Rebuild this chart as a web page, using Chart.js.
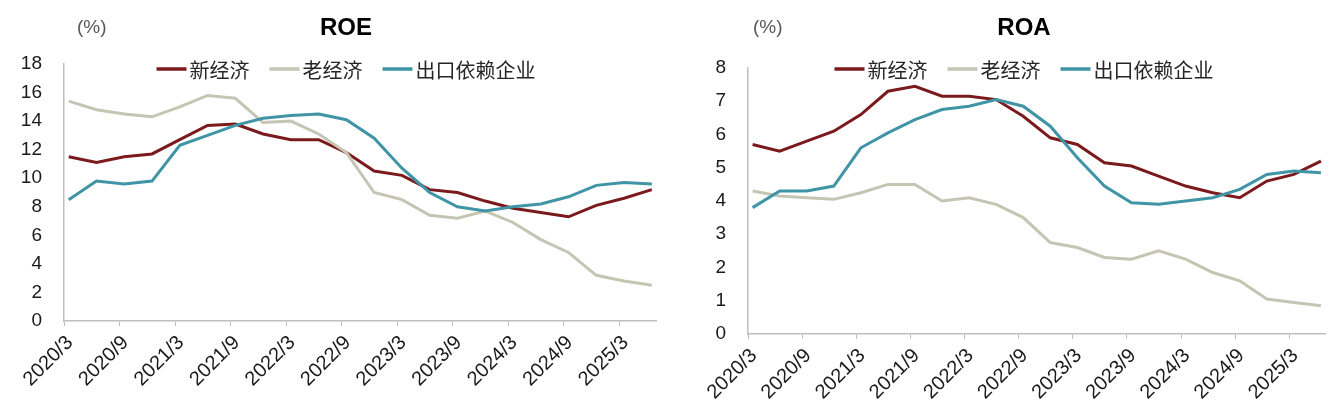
<!DOCTYPE html>
<html>
<head>
<meta charset="utf-8">
<script src="https://cdn.jsdelivr.net/npm/chart.js@4.4.1/dist/chart.umd.min.js"></script>
<style>
  html, body { margin: 0; padding: 0; background: #fff; }
  #wrap { display: flex; width: 1332px; height: 411px; }
  .box { width: 666px; height: 411px; }
</style>
</head>
<body>
<div id="wrap">
  <div class="box"><canvas id="roe" width="666" height="411"></canvas></div>
  <div class="box"><canvas id="roa" width="666" height="411"></canvas></div>
</div>
<script>
const quarters = [
  '2020/3', '2020/6', '2020/9', '2020/12',
  '2021/3', '2021/6', '2021/9', '2021/12',
  '2022/3', '2022/6', '2022/9', '2022/12',
  '2023/3', '2023/6', '2023/9', '2023/12',
  '2024/3', '2024/6', '2024/9', '2024/12',
  '2025/3', '2025/6'
];
const tickLabels = ['2020/3', '2020/9', '2021/3', '2021/9', '2022/3', '2022/9',
  '2023/3', '2023/9', '2024/3', '2024/9', '2025/3'];
const seriesNames = ['新经济', '老经济', '出口依赖企业'];

// ROE (%)
const roeNew = [11.5, 11.1, 11.5, 11.7, 12.7, 13.7, 13.8, 13.1, 12.7, 12.7, 11.8, 10.5,
  10.2, 9.2, 9.0, 8.4, 7.9, 7.6, 7.3, 8.1, 8.6, 9.2];
const roeOld = [15.4, 14.8, 14.5, 14.3, 15.0, 15.8, 15.6, 13.9, 14.0, 13.1, 11.8, 9.0,
  8.5, 7.4, 7.2, 7.7, 6.9, 5.7, 4.8, 3.2, 2.8, 2.5];
const roeExport = [8.5, 9.8, 9.6, 9.8, 12.3, 13.0, 13.7, 14.2, 14.4, 14.5, 14.1, 12.8,
  10.7, 9.0, 8.0, 7.7, 8.0, 8.2, 8.7, 9.5, 9.7, 9.6];

// ROA (%)
const roaNew = [5.7, 5.5, 5.8, 6.1, 6.6, 7.3, 7.45, 7.15, 7.15, 7.05, 6.55, 5.9,
  5.7, 5.15, 5.05, 4.75, 4.45, 4.25, 4.1, 4.6, 4.8, 5.2];
const roaOld = [4.3, 4.15, 4.1, 4.05, 4.25, 4.5, 4.5, 4.0, 4.1, 3.9, 3.5, 2.75,
  2.6, 2.3, 2.25, 2.5, 2.25, 1.85, 1.6, 1.05, 0.95, 0.85];
const roaExport = [3.8, 4.3, 4.3, 4.45, 5.6, 6.05, 6.45, 6.75, 6.85, 7.05, 6.85, 6.25,
  5.3, 4.45, 3.95, 3.9, 4.0, 4.1, 4.35, 4.8, 4.9, 4.85];

const colors = ['#7b1a1c', '#c5c5b4', '#3f95a5'];

// unit label, title and an in-plot legend (the legend overlaps the plot in the source)
const decor = {
  id: 'decor',
  afterDraw(chart, args, opts) {
    const ctx = chart.ctx;
    ctx.save();
    ctx.textBaseline = 'middle';
    ctx.textAlign = 'left';
    ctx.fillStyle = '#595959';
    ctx.font = '19px "Liberation Sans", Arial, sans-serif';
    ctx.fillText('(%)', opts.unitX, 28);

    ctx.fillStyle = '#000';
    ctx.font = 'bold 24px "Liberation Sans", Arial, sans-serif';
    ctx.textAlign = 'center';
    ctx.fillText(opts.title, opts.centerX, 28);

    ctx.font = '20px "Noto Sans CJK SC", sans-serif';
    ctx.textAlign = 'left';
    const items = opts.order.map(ds => ({
      label: ds.label,
      color: ds.borderColor,
      w: 33 + ctx.measureText(ds.label).width
    }));
    const gap = 20;
    const total = items.reduce((s, it) => s + it.w, 0) + gap * (items.length - 1);
    let x = opts.centerX - total / 2;
    items.forEach(it => {
      ctx.strokeStyle = it.color;
      ctx.lineWidth = 3.5;
      ctx.beginPath();
      ctx.moveTo(x, opts.legendY);
      ctx.lineTo(x + 30, opts.legendY);
      ctx.stroke();
      ctx.fillStyle = '#262626';
      ctx.fillText(it.label, x + 33, opts.legendY + 1);
      x += it.w + gap;
    });
    ctx.restore();
  }
};

function makeChart(canvasId, values, cfg) {
  const ctx = document.getElementById(canvasId).getContext('2d');
  const datasets = values.map((vals, i) => ({
    label: seriesNames[i],
    data: vals.map((v, j) => ({ x: j, y: v })),
    borderColor: colors[i],
    backgroundColor: colors[i],
    borderWidth: 3,
    pointRadius: 0,
    tension: 0
  }));
  const legendOrder = datasets.slice();
  // 新经济 drawn on top like the reference
  datasets.reverse();

  return new Chart(ctx, {
    type: 'line',
    data: { datasets: datasets },
    options: {
      responsive: false,
      animation: false,
      layout: { padding: { top: cfg.top, right: cfg.right, left: 0, bottom: 0 } },
      plugins: {
        legend: { display: false },
        tooltip: { enabled: false },
        decor: { title: cfg.title, centerX: cfg.centerX, unitX: cfg.unitX, legendY: 69, order: legendOrder }
      },
      scales: {
        x: {
          type: 'linear',
          min: -0.17,
          max: 21.15,
          afterFit: (scale) => { scale.height = 411 - cfg.bottom; },
          afterBuildTicks: (axis) => {
            axis.ticks = tickLabels.map(l => ({ value: quarters.indexOf(l) - 0.17 }));
          },
          ticks: {
            autoSkip: false,
            maxRotation: 45,
            minRotation: 45,
            padding: 5,
            labelOffset: 6,
            color: '#1a1a1a',
            font: { family: '"Liberation Sans", Arial, sans-serif', size: 20 },
            callback: (value, index) => tickLabels[index]
          },
          grid: { display: true, drawOnChartArea: false, drawTicks: true, tickLength: 5, color: '#bfbfbf' },
          border: { color: '#bfbfbf', width: 1.5 }
        },
        y: {
          min: 0,
          max: cfg.yMax,
          afterFit: (scale) => { scale.width = cfg.left; },
          ticks: {
            stepSize: cfg.yStep,
            padding: 14,
            color: '#1a1a1a',
            font: { family: '"Liberation Sans", Arial, sans-serif', size: 19 }
          },
          grid: { display: false },
          border: { color: '#bfbfbf', width: 1.5 }
        }
      }
    },
    plugins: [decor]
  });
}

makeChart('roe', [roeNew, roeOld, roeExport], {
  title: 'ROE', centerX: 346, unitX: 77, top: 64, bottom: 321, left: 64, right: 10, yMax: 18, yStep: 2
});
makeChart('roa', [roaNew, roaOld, roaExport], {
  title: 'ROA', centerX: 358, unitX: 87, top: 68, bottom: 334, left: 82, right: 7, yMax: 8, yStep: 1
});
</script>
</body>
</html>
